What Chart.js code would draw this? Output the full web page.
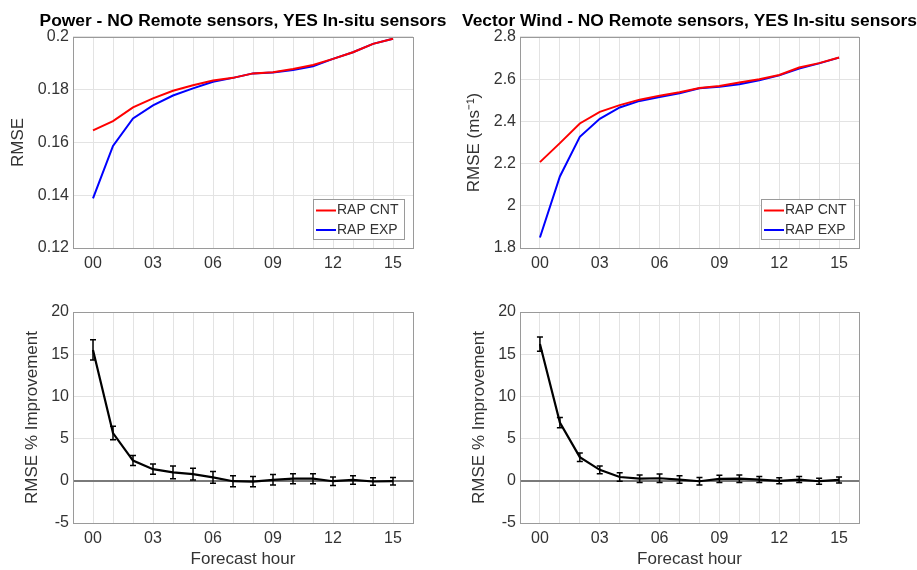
<!DOCTYPE html>
<html>
<head>
<meta charset="utf-8">
<script src="https://cdn.jsdelivr.net/npm/chart.js@4.4.1/dist/chart.umd.min.js"></script>
<style>
  html, body { margin: 0; background: #fff; overflow: hidden; width: 917px; height: 570px; }
  canvas { position: absolute; }
</style>
</head>
<body>
<canvas id="powerRmse" width="486" height="285" style="left:0;top:0"></canvas>
<canvas id="windRmse" width="459" height="285" style="left:460px;top:0"></canvas>
<canvas id="powerImp" width="486" height="285" style="left:0;top:285px"></canvas>
<canvas id="windImp" width="459" height="285" style="left:460px;top:285px"></canvas>
<script>
// forecast hours and the ones that get a label
const hours = [0, 1, 2, 3, 4, 5, 6, 7, 8, 9, 10, 11, 12, 13, 14, 15];
const xLabelHours = [0, 3, 6, 9, 12, 15];

// y tick labels
const powerTicks = [0.12, 0.14, 0.16, 0.18, 0.2];
const windTicks = [1.8, 2, 2.2, 2.4, 2.6, 2.8];
const impTicks = [-5, 0, 5, 10, 15, 20];

// RMSE, power
const powerCnt = [0.1646, 0.1681, 0.1733, 0.1767, 0.1796, 0.1817, 0.1835, 0.1845, 0.1862, 0.1866, 0.1879, 0.1894, 0.1917, 0.1942, 0.1974, 0.1993];
const powerExp = [0.1388, 0.1587, 0.1691, 0.1741, 0.1778, 0.1805, 0.1830, 0.1845, 0.1862, 0.1865, 0.1875, 0.1889, 0.1917, 0.1942, 0.1974, 0.1993];

// RMSE, vector wind
const windCnt = [2.207, 2.297, 2.390, 2.445, 2.477, 2.503, 2.522, 2.538, 2.558, 2.568, 2.584, 2.600, 2.620, 2.655, 2.676, 2.703];
const windExp = [1.850, 2.139, 2.327, 2.412, 2.466, 2.497, 2.516, 2.533, 2.557, 2.564, 2.576, 2.595, 2.618, 2.650, 2.675, 2.702];

// % improvement and error bar half-widths
const powerImp = [15.5, 5.65, 2.4, 1.38, 1.0, 0.8, 0.4, -0.05, -0.1, 0.12, 0.25, 0.25, -0.05, 0.1, -0.08, -0.05];
const powerErr = [1.2, 0.8, 0.6, 0.6, 0.75, 0.7, 0.7, 0.65, 0.6, 0.62, 0.6, 0.6, 0.5, 0.5, 0.45, 0.45];
const windImp = [16.2, 6.9, 2.8, 1.3, 0.45, 0.25, 0.3, 0.15, -0.05, 0.23, 0.25, 0.15, 0.0, 0.15, -0.05, 0.1];
const windErr = [0.85, 0.6, 0.5, 0.45, 0.5, 0.45, 0.5, 0.45, 0.45, 0.43, 0.45, 0.35, 0.35, 0.35, 0.35, 0.35];

const FONT = "'Liberation Sans', Arial, Helvetica, sans-serif";
Chart.defaults.font.family = FONT;
const TEXT = '#333';
const GRID = '#e3e3e3';

// box around the plot area
const frame = {
    id: 'frame',
    afterDatasetsDraw(chart) {
        const { ctx, chartArea: a } = chart;
        ctx.save();
        ctx.strokeStyle = '#9a9a9a';
        ctx.lineWidth = 1;
        ctx.strokeRect(Math.round(a.left) + 0.5, Math.round(a.top) + 0.5,
            Math.round(a.right - a.left), Math.round(a.bottom - a.top));
        ctx.restore();
    }
};

// vertical error bars with caps
const errorBars = {
    id: 'errorBars',
    afterDatasetsDraw(chart) {
        const { ctx, scales: { y } } = chart;
        chart.data.datasets.forEach((ds, i) => {
            if (!ds.errors) return;
            const pts = chart.getDatasetMeta(i).data;
            ctx.save();
            ctx.strokeStyle = ds.borderColor;
            ctx.lineWidth = 1.5;
            ds.data.forEach((v, j) => {
                const px = pts[j].x;
                const top = y.getPixelForValue(v + ds.errors[j]);
                const bot = y.getPixelForValue(v - ds.errors[j]);
                ctx.beginPath();
                ctx.moveTo(px, top); ctx.lineTo(px, bot);
                ctx.moveTo(px - 3, top); ctx.lineTo(px + 3, top);
                ctx.moveTo(px - 3, bot); ctx.lineTo(px + 3, bot);
                ctx.stroke();
            });
            ctx.restore();
        });
    }
};

// legend box inside the lower right corner
const boxLegend = {
    id: 'boxLegend',
    afterDraw(chart, args, opts) {
        if (!opts.display) return;
        const { ctx, chartArea: a } = chart;
        const x = Math.round(a.right - opts.right - opts.width);
        const y = Math.round(a.bottom - opts.bottom - opts.height);
        ctx.save();
        ctx.fillStyle = '#fff';
        ctx.fillRect(x, y, opts.width, opts.height);
        ctx.strokeStyle = '#9a9a9a';
        ctx.lineWidth = 1;
        ctx.strokeRect(x + 0.5, y + 0.5, opts.width, opts.height);
        ctx.font = '14px ' + FONT;
        ctx.textBaseline = 'middle';
        chart.data.datasets.forEach((ds, i) => {
            const yy = y + 11.5 + i * 19.5;
            ctx.strokeStyle = ds.borderColor;
            ctx.lineWidth = 2;
            ctx.beginPath();
            ctx.moveTo(x + 3, yy); ctx.lineTo(x + 23, yy);
            ctx.stroke();
            ctx.fillStyle = TEXT;
            ctx.fillText(ds.label, x + 24, yy);
        });
        ctx.restore();
    }
};

function panel(id, o) {
    return new Chart(document.getElementById(id), {
        type: 'line',
        data: { labels: hours, datasets: o.datasets },
        options: {
            responsive: false,
            animation: false,
            layout: { padding: { top: o.padTop || 0, left: 0, right: 0, bottom: 0 } },
            elements: { point: { radius: 0 }, line: { tension: 0 } },
            plugins: {
                legend: { display: false },
                tooltip: { enabled: false },
                title: o.title ? {
                    display: true, text: o.title, color: '#000',
                    font: { size: 17.4, weight: 'bold' },
                    padding: { top: 11, bottom: 5.1 }
                } : { display: false },
                boxLegend: o.legend || { display: false }
            },
            scales: {
                x: {
                    type: 'linear', min: -1, max: 16,
                    afterBuildTicks: s => { s.ticks = hours.map(v => ({ value: v })); },
                    afterFit: s => { s.height = o.xHeight; },
                    ticks: {
                        autoSkip: false, maxRotation: 0, padding: 6, color: TEXT,
                        font: { size: 16 },
                        callback: v => xLabelHours.includes(v) ? String(v).padStart(2, '0') : ''
                    },
                    grid: { color: GRID, drawTicks: false },
                    border: { display: false },
                    title: o.xTitle ? {
                        display: true, text: o.xTitle, color: TEXT,
                        font: { size: 17 }, padding: { top: 0, bottom: 0 }
                    } : { display: false }
                },
                y: {
                    min: o.yTicks[0], max: o.yTicks[o.yTicks.length - 1],
                    afterBuildTicks: s => { s.ticks = o.yTicks.map(v => ({ value: v })); },
                    afterFit: s => { s.width = o.yWidth; },
                    ticks: { padding: 4, color: TEXT, font: { size: 16 }, callback: v => String(v) },
                    grid: {
                        drawTicks: false,
                        color: c => (o.zeroLine && c.tick && c.tick.value === 0) ? '#7a7a7a' : GRID,
                        lineWidth: c => (o.zeroLine && c.tick && c.tick.value === 0) ? 2 : 1
                    },
                    border: { display: false },
                    title: {
                        display: true, text: o.yTitle, color: TEXT,
                        font: { size: 17 }, padding: { top: o.yTitlePad, bottom: 0 }
                    }
                },
                // empty right-hand axis, only reserves the white margin
                spacer: {
                    axis: 'y', position: 'right',
                    afterFit: s => { s.width = o.rightWidth; },
                    ticks: { display: false },
                    grid: { display: false },
                    border: { display: false }
                }
            }
        },
        plugins: [frame, errorBars, boxLegend]
    });
}

panel('powerRmse', {
    title: 'Power - NO Remote sensors, YES In-situ sensors',
    xHeight: 37, yWidth: 73, rightWidth: 73, yTitlePad: 8,
    yTicks: powerTicks, yTitle: 'RMSE',
    legend: { display: true, width: 91, height: 40, right: 9, bottom: 9 },
    datasets: [
        { label: 'RAP CNT', data: powerCnt, borderColor: '#ff0000', borderWidth: 2 },
        { label: 'RAP EXP', data: powerExp, borderColor: '#0000ff', borderWidth: 2 }
    ]
});

panel('windRmse', {
    title: 'Vector Wind - NO Remote sensors, YES In-situ sensors',
    xHeight: 37, yWidth: 60, rightWidth: 60, yTitlePad: 4,
    yTicks: windTicks, yTitle: 'RMSE (ms⁻¹)',
    legend: { display: true, width: 93, height: 40, right: 5, bottom: 9 },
    datasets: [
        { label: 'RAP CNT', data: windCnt, borderColor: '#ff0000', borderWidth: 2 },
        { label: 'RAP EXP', data: windExp, borderColor: '#0000ff', borderWidth: 2 }
    ]
});

panel('powerImp', {
    padTop: 27,
    xHeight: 47, yWidth: 73, rightWidth: 73, yTitlePad: 22, zeroLine: true,
    yTicks: impTicks, yTitle: 'RMSE % Improvement', xTitle: 'Forecast hour',
    datasets: [
        { label: 'Improvement', data: powerImp, errors: powerErr, borderColor: '#000', borderWidth: 2.2 }
    ]
});

panel('windImp', {
    padTop: 27,
    xHeight: 47, yWidth: 60, rightWidth: 60, yTitlePad: 9, zeroLine: true,
    yTicks: impTicks, yTitle: 'RMSE % Improvement', xTitle: 'Forecast hour',
    datasets: [
        { label: 'Improvement', data: windImp, errors: windErr, borderColor: '#000', borderWidth: 2.2 }
    ]
});
</script>
</body>
</html>
